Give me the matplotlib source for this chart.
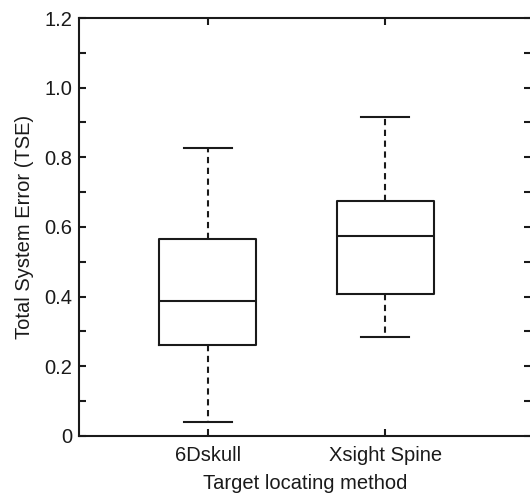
import matplotlib.pyplot as plt

plt.rcParams['font.family'] = ['Liberation Sans', 'DejaVu Sans']

methods = ["6Dskull", "Xsight Spine"]
whisker_low = [0.040, 0.284]
q1 = [0.260, 0.408]
medians = [0.388, 0.574]
q3 = [0.565, 0.675]
whisker_high = [0.827, 0.917]

ytick_vals = [0, 0.1, 0.2, 0.3, 0.4, 0.5, 0.6, 0.7, 0.8, 0.9, 1.0, 1.1, 1.2]
ytick_labels = ["0", "", "0.2", "", "0.4", "", "0.6", "", "0.8", "", "1.0", "", "1.2"]

stats = []
for i in range(len(methods)):
    stats.append({"label": methods[i], "whislo": whisker_low[i], "q1": q1[i],
                  "med": medians[i], "q3": q3[i], "whishi": whisker_high[i],
                  "fliers": []})

fig = plt.figure(figsize=(5.30, 4.96), dpi=100)
ax = fig.add_axes([0.149, 0.121, 0.853, 0.8427])

lw = 1.5
ax.bxp(stats, positions=[1, 2], widths=0.545, showfliers=False,
       boxprops=dict(color="#1a1a1a", linewidth=lw),
       medianprops=dict(color="#1a1a1a", linewidth=lw),
       whiskerprops=dict(color="#1a1a1a", linewidth=lw, linestyle=(0, (3, 2.2))),
       capprops=dict(color="#1a1a1a", linewidth=lw),
       capwidths=0.27)

ax.set_xlim(0.275, 2.82)
ax.set_ylim(0, 1.2)
ax.set_yticks(ytick_vals)
ax.set_yticklabels(ytick_labels)
ax.set_xticks([1, 2])
ax.set_xticklabels(methods)

for s in ax.spines.values():
    s.set_linewidth(lw)
    s.set_color("#1a1a1a")

ax.tick_params(axis="both", direction="in", length=5, width=1.5, color="#1a1a1a",
               labelsize=14.5, top=True, right=True, labelcolor="#1a1a1a")
ax.tick_params(axis="y", pad=5)
ax.tick_params(axis="x", pad=7)
ax.set_ylabel("Total System Error (TSE)", fontsize=14.5, labelpad=7, color="#1a1a1a")
ax.set_xlabel("Target locating method", fontsize=14.5, labelpad=7, color="#1a1a1a")

fig.savefig("out.png", dpi=100)
